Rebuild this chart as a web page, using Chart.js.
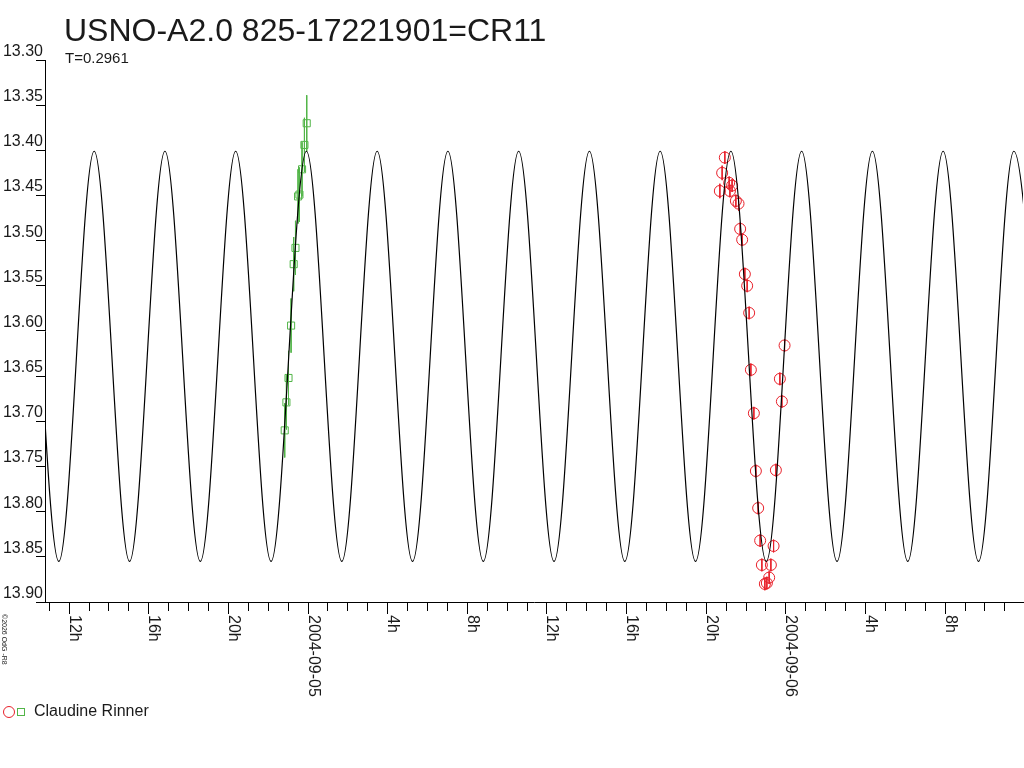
<!DOCTYPE html>
<html>
<head>
<meta charset="utf-8">
<script src="https://cdn.jsdelivr.net/npm/chart.js@4/dist/chart.umd.min.js"></script>
<style>
html,body{margin:0;padding:0;background:#fff;}
#wrap{width:1024px;height:768px;position:relative;}
</style>
</head>
<body>
<div id="wrap"><canvas id="c" width="1024" height="768"></canvas></div>
<script>
// ---- texts ----
const titleText = 'USNO-A2.0 825-17221901=CR11';
const subtitleText = 'T=0.2961';
const observerName = 'Claudine Rinner';
const copyrightText = '\u00A92026 OdG -R8';

// ---- axes (x in hours from 2004-09-05 00:00 UT) ----
const xMinHour = -13.21;
const xMaxHour = 35.91;
const yMin = 13.30;
const yMax = 13.90;
const yTicks = [13.30, 13.35, 13.40, 13.45, 13.50, 13.55, 13.60, 13.65, 13.70, 13.75, 13.80, 13.85, 13.90];
const majorTickHours = [-12, -8, -4, 0, 4, 8, 12, 16, 20, 24, 28, 32];
const majorTickLabels = ['12h', '16h', '20h', '2004-09-05', '4h', '8h', '12h', '16h', '20h', '2004-09-06', '4h', '8h'];

// ---- model light curve: maxima / minima ----
const curveHours = [-16.070, -14.293, -12.516, -10.740, -8.963, -7.186, -5.410, -3.633, -1.856, -0.080,
  1.697, 3.473, 5.250, 7.026, 8.803, 10.580, 12.356, 14.133, 15.910, 17.686, 19.463, 21.239,
  23.016, 24.792, 26.569, 28.346, 30.122, 31.899, 33.676, 35.452, 37.229];
const curveMags = [13.855, 13.401, 13.855, 13.401, 13.855, 13.401, 13.855, 13.401, 13.855, 13.401,
  13.855, 13.401, 13.855, 13.401, 13.855, 13.401, 13.855, 13.401, 13.855, 13.401, 13.855, 13.401,
  13.855, 13.401, 13.855, 13.401, 13.855, 13.401, 13.855, 13.401, 13.855];

// ---- observations: Claudine Rinner, night 1 (green squares) ----
const greenHours = [-1.17, -1.085, -0.98, -0.85, -0.72, -0.63, -0.50, -0.43, -0.30, -0.18, -0.065];
const greenMags  = [13.710, 13.679, 13.652, 13.594, 13.526, 13.508, 13.451, 13.449, 13.421, 13.394, 13.370];
const greenErrs  = [0.030, 0.030, 0.030, 0.030, 0.030, 0.030, 0.030, 0.030, 0.030, 0.030, 0.031];

// ---- observations: Claudine Rinner, night 2 (red circles) ----
const redHours = [20.684, 20.800, 20.935, 21.152, 21.190, 21.300, 21.488, 21.623, 21.704, 21.805, 21.940,
  22.056, 22.156, 22.242, 22.393, 22.493, 22.609, 22.709, 22.795, 22.945, 23.046, 23.161, 23.247,
  23.383, 23.498, 23.699, 23.800, 23.935];
const redMags = [13.445, 13.425, 13.408, 13.436, 13.445, 13.439, 13.456, 13.459, 13.487, 13.499, 13.537,
  13.550, 13.580, 13.643, 13.691, 13.755, 13.796, 13.832, 13.859, 13.880, 13.879, 13.873, 13.859,
  13.838, 13.754, 13.653, 13.678, 13.616];
const redErrs = [0.008, 0.008, 0.007, 0.007, 0.007, 0.007, 0.007, 0.008, 0.007, 0.007, 0.007,
  0.007, 0.007, 0.007, 0.007, 0.007, 0.007, 0.007, 0.007, 0.007, 0.007, 0.007, 0.007,
  0.007, 0.007, 0.007, 0.007, 0.007];

// ---- styles ----
const RED = '#e8202a';
const GREEN = '#52b548';
const INK = '#1a1a1a';
const FONT = '"Liberation Sans", Arial, sans-serif';

function pts(xs, ys) { return xs.map((x, i) => ({x: x, y: ys[i]})); }
function errSegs(xs, ys, es) {
  const out = [];
  xs.forEach((x, i) => {
    out.push({x: x, y: ys[i] - es[i]});
    out.push({x: x, y: ys[i] + es[i]});
    out.push({x: x, y: null});
  });
  return out;
}

// legend icon: red circle + green square
const icon = document.createElement('canvas');
icon.width = 24; icon.height = 14;
(function () {
  const g = icon.getContext('2d');
  g.lineWidth = 1;
  g.strokeStyle = RED;
  g.beginPath(); g.arc(7, 7, 5.5, 0, Math.PI * 2); g.stroke();
  g.strokeStyle = GREEN;
  g.strokeRect(15.5, 3.5, 7, 7);
})();

const textPlugin = {
  id: 'texts',
  afterDraw(chart) {
    const ctx = chart.ctx;
    const xs = chart.scales.x;
    ctx.save();
    ctx.fillStyle = INK;
    ctx.textAlign = 'left';
    ctx.textBaseline = 'alphabetic';
    ctx.font = '32px ' + FONT;
    ctx.fillText(titleText, 64, 41);
    ctx.font = '15px ' + FONT;
    ctx.fillText(subtitleText, 65, 63);
    // rotated x tick labels (reading top to bottom)
    ctx.font = '16px ' + FONT;
    majorTickHours.forEach((h, i) => {
      const px = xs.getPixelForValue(h);
      ctx.save();
      ctx.translate(px + 0.5, xs.top + 13);
      ctx.rotate(Math.PI / 2);
      ctx.fillText(majorTickLabels[i], 0, 0);
      ctx.restore();
    });
    // small copyright
    ctx.font = '7px ' + FONT;
    ctx.save();
    ctx.translate(2, 614);
    ctx.rotate(Math.PI / 2);
    ctx.fillText(copyrightText, 0, 0);
    ctx.restore();
    ctx.restore();
  }
};

new Chart(document.getElementById('c'), {
  type: 'line',
  data: {
    datasets: [
      {
        label: 'model',
        data: pts(curveHours, curveMags),
        borderColor: '#000',
        borderWidth: 1.2,
        pointRadius: 0,
        fill: false,
        cubicInterpolationMode: 'monotone'
      },
      {
        label: observerName + ' (1)',
        data: pts(greenHours, greenMags),
        showLine: false,
        pointStyle: 'rect',
        pointRadius: 5,
        pointBorderWidth: 1,
        borderColor: GREEN,
        backgroundColor: 'rgba(0,0,0,0)'
      },
      {
        label: 'err1',
        data: errSegs(greenHours, greenMags, greenErrs),
        borderColor: GREEN,
        borderWidth: 1,
        pointRadius: 0,
        spanGaps: false,
        fill: false
      },
      {
        label: observerName + ' (2)',
        data: pts(redHours, redMags),
        showLine: false,
        pointStyle: 'circle',
        pointRadius: 5.5,
        pointBorderWidth: 1,
        borderColor: RED,
        backgroundColor: 'rgba(0,0,0,0)'
      },
      {
        label: 'err2',
        data: errSegs(redHours, redMags, redErrs),
        borderColor: RED,
        borderWidth: 1,
        pointRadius: 0,
        spanGaps: false,
        fill: false
      }
    ]
  },
  options: {
    responsive: false,
    animation: false,
    events: [],
    layout: {autoPadding: false, padding: {top: 60, left: 0, right: 1, bottom: 38}},
    scales: {
      x: {
        type: 'linear',
        min: xMinHour,
        max: xMaxHour,
        afterFit(s) { s.height = 100; s.paddingLeft = 0; s.paddingRight = 0; },
        ticks: {stepSize: 1, includeBounds: false, autoSkip: false, display: false, maxRotation: 0},
        grid: {
          drawOnChartArea: false,
          drawTicks: true,
          tickLength: 12,
          color: '#000',
          tickBorderDash: (c) => (c.tick && majorTickHours.includes(Math.round(c.tick.value))) ? [] : [8, 40]
        },
        border: {color: '#000', width: 1}
      },
      y: {
        type: 'linear',
        reverse: true,
        min: yMin,
        max: yMax,
        afterFit(s) { s.width = 45; s.paddingTop = 0; s.paddingBottom = 0; },
        afterBuildTicks(s) { s.ticks = yTicks.map(v => ({value: v})); },
        ticks: {
          callback: (v) => Number(v).toFixed(2),
          font: {family: FONT, size: 16},
          color: INK,
          padding: -7,
          labelOffset: -8.5
        },
        grid: {drawOnChartArea: false, drawTicks: true, tickLength: 9, color: '#000'},
        border: {color: '#000', width: 1}
      }
    },
    plugins: {
      tooltip: {enabled: false},
      title: {display: false},
      legend: {
        display: true,
        position: 'bottom',
        align: 'start',
        labels: {
          usePointStyle: true,
          pointStyleWidth: 24,
          padding: 2,
          color: INK,
          font: {family: FONT, size: 16},
          generateLabels: () => [{
            text: observerName,
            pointStyle: icon,
            fillStyle: 'rgba(0,0,0,0)',
            strokeStyle: 'rgba(0,0,0,0)',
            lineWidth: 0,
            hidden: false,
            datasetIndex: 3,
            fontColor: INK
          }]
        }
      }
    }
  },
  plugins: [textPlugin]
});
</script>
</body>
</html>
